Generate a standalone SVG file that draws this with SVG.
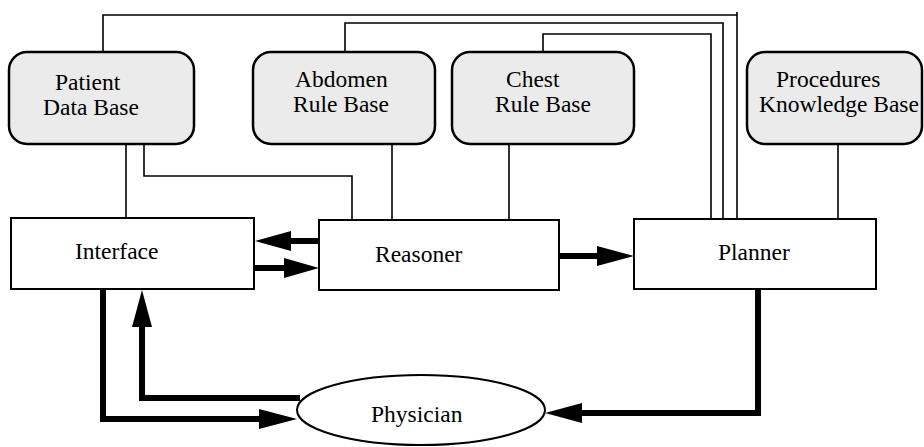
<svg xmlns="http://www.w3.org/2000/svg" width="924" height="447" viewBox="0 0 924 447">
<style>
  .kb { fill: #ebebeb; stroke: #000; stroke-width: 2.5; }
  .box { fill: #fff; stroke: #000; stroke-width: 2; }
  .lbl { font-family: "Liberation Serif", "Times New Roman", serif; font-size: 23.5px; fill: #000; }
  .thin { fill: none; stroke: #000; stroke-width: 1.6; }
  .thick { fill: none; stroke: #000; stroke-width: 6; stroke-linejoin: miter; }
  .head { fill: #000; stroke: none; }
</style>
<rect width="924" height="447" fill="#fff"/>
<g id="connectors">
  <path class="thin" d="M103 52 V15 H737"/>
  <path class="thin" d="M737 12 V219"/>
  <path class="thin" d="M345 52 V23 H723 V219"/>
  <path class="thin" d="M543 52 V34 H711 V219"/>
  <path class="thin" d="M838 144 V219"/>
  <path class="thin" d="M126 144 V218"/>
  <path class="thin" d="M144 144 V176 H352 V220"/>
  <path class="thin" d="M392 144 V220"/>
  <path class="thin" d="M509 144 V220"/>
  <path class="thick" d="M322 241 H286"/>
  <polygon class="head" points="255,241 291,231 291,251"/>
  <path class="thick" d="M254 268 H288"/>
  <polygon class="head" points="319,268 284,258 284,278"/>
  <path class="thick" d="M559 256 H600"/>
  <polygon class="head" points="634,256 597,246 597,266"/>
  <path class="thick" d="M103 289 V419 H262"/>
  <polygon class="head" points="297,419 259,409 259,429"/>
  <path class="thick" d="M300 398 H142 V324"/>
  <polygon class="head" points="142,290 132,327 152,327"/>
  <path class="thick" d="M758 289 V413 H578"/>
  <polygon class="head" points="545,413 582,403 582,423"/>
</g>
<g id="patient-db">
  <rect class="kb" x="9" y="52" width="185" height="92" rx="18" ry="18"/>
  <text class="lbl" x="55" y="90">Patient</text>
  <text class="lbl" x="43" y="115">Data Base</text>
</g>
<g id="abdomen-rb">
  <rect class="kb" x="253" y="52" width="182" height="92" rx="18" ry="18"/>
  <text class="lbl" x="295" y="87">Abdomen</text>
  <text class="lbl" x="293" y="112">Rule Base</text>
</g>
<g id="chest-rb">
  <rect class="kb" x="452" y="52" width="182" height="92" rx="18" ry="18"/>
  <text class="lbl" x="506" y="87">Chest</text>
  <text class="lbl" x="495" y="112">Rule Base</text>
</g>
<g id="procedures-kb">
  <rect class="kb" x="747" y="52" width="175" height="92" rx="18" ry="18"/>
  <text class="lbl" x="776" y="87">Procedures</text>
  <text class="lbl" x="759" y="112">Knowledge Base</text>
</g>
<g id="interface">
  <rect class="box" x="11" y="218" width="243" height="71"/>
  <text class="lbl" x="75" y="259">Interface</text>
</g>
<g id="reasoner">
  <rect class="box" x="319" y="220" width="240" height="70"/>
  <text class="lbl" x="375" y="262">Reasoner</text>
</g>
<g id="planner">
  <rect class="box" x="634" y="219" width="242" height="70"/>
  <text class="lbl" x="718" y="260">Planner</text>
</g>
<g id="physician">
  <ellipse cx="421" cy="410" rx="124" ry="35" fill="#fff" stroke="#000" stroke-width="2"/>
  <text class="lbl" x="371" y="422">Physician</text>
</g>
</svg>
